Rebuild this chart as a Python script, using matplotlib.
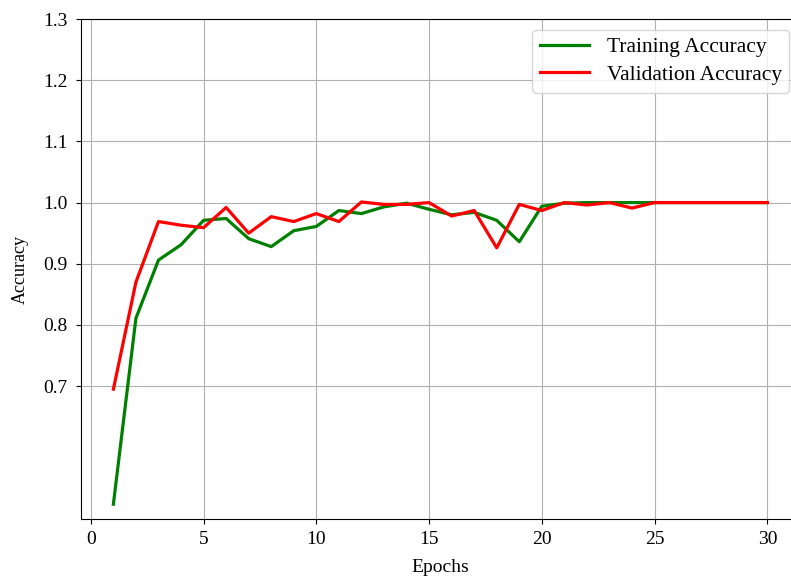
import matplotlib
matplotlib.use("Agg")
import matplotlib.pyplot as plt

epochs = list(range(1, 31))
train_acc = [0.507, 0.811, 0.906, 0.931, 0.971, 0.974, 0.941, 0.928, 0.954, 0.961,
             0.987, 0.982, 0.993, 0.999, 0.989, 0.980, 0.984, 0.971, 0.936, 0.994,
             0.999, 1.0, 1.0, 1.0, 1.0, 1.0, 1.0, 1.0, 1.0, 1.0]
val_acc = [0.695, 0.870, 0.969, 0.963, 0.959, 0.992, 0.950, 0.977, 0.969, 0.982,
           0.969, 1.001, 0.997, 0.997, 1.000, 0.978, 0.987, 0.926, 0.997, 0.987,
           1.0, 0.996, 1.0, 0.991, 1.0, 1.0, 1.0, 1.0, 1.0, 1.0]
y_ticks = [0.7, 0.8, 0.9, 1.0, 1.1, 1.2, 1.3]

plt.rcParams['font.family'] = ['Liberation Serif', 'DejaVu Serif']

fig = plt.figure(figsize=(7.91, 5.77), dpi=100)
ax = fig.add_axes([0.102, 0.1, 0.9094, 0.867])

ax.plot(epochs, train_acc, color='green', linewidth=2.3, label='Training Accuracy')
ax.plot(epochs, val_acc, color='red', linewidth=2.3, label='Validation Accuracy')

ax.set_ylim(top=1.3)
ax.set_yticks(y_ticks)
ax.set_xlabel('Epochs', fontsize=14, labelpad=8)
ax.set_ylabel('Accuracy', fontsize=13, labelpad=10)
ax.tick_params(axis='y', labelsize=14, pad=6)
ax.tick_params(axis='x', labelsize=14, pad=5)
ax.grid(True)
ax.legend(loc='upper right', fontsize=15.5, handlelength=2.3,
          labelspacing=0.35, borderpad=0.35)

fig.savefig('out.png', dpi=100)
